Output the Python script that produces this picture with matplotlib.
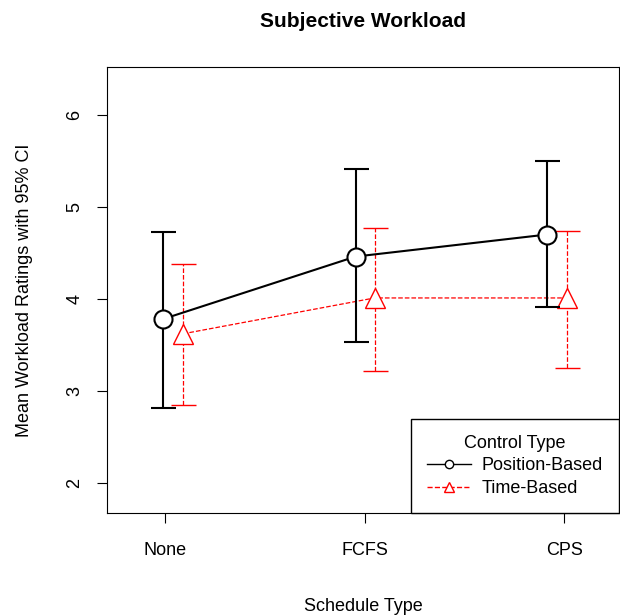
import matplotlib.pyplot as plt
from matplotlib.lines import Line2D

plt.rcParams['font.family'] = ['Liberation Sans', 'DejaVu Sans']

categories = ['None', 'FCFS', 'CPS']
pos_x = [0.99, 1.955, 2.915]
pos_mean = [3.78, 4.46, 4.70]
pos_lo = [2.81, 3.53, 3.91]
pos_hi = [4.73, 5.41, 5.50]
time_x = [1.09, 2.05, 3.015]
time_mean = [3.62, 4.01, 4.01]
time_lo = [2.85, 3.22, 3.25]
time_hi = [4.38, 4.77, 4.74]

fig = plt.figure(figsize=(6.2, 6.16), dpi=100)
ax = fig.add_axes([0.1726, 0.167, 0.826, 0.724])

ax.errorbar(pos_x, pos_mean,
            yerr=[[m - l for m, l in zip(pos_mean, pos_lo)], [h - m for m, h in zip(pos_mean, pos_hi)]],
            color='black', lw=1.5, capsize=9, capthick=1.5, marker='o', ms=13,
            mfc='white', mec='black', mew=1.5, zorder=3)
eb = ax.errorbar(time_x, time_mean,
                 yerr=[[m - l for m, l in zip(time_mean, time_lo)], [h - m for m, h in zip(time_mean, time_hi)]],
                 color='red', lw=0.9, ls='--', capsize=9, capthick=0.9, marker='^', ms=15,
                 mfc='white', mec='red', mew=1.0, zorder=2)
for c in eb[2]:
    c.set_linestyle('--')

ax.set_xlim(0.71, 3.275)
ax.set_ylim(1.67, 6.52)
ax.set_xticks([1, 2, 3])
ax.set_xticklabels(categories, fontsize=13)
ax.set_yticks([2, 3, 4, 5, 6])
ax.set_yticklabels(['2', '3', '4', '5', '6'], fontsize=13, rotation=90, va='center')
ax.tick_params(axis='x', pad=14, length=7)
ax.tick_params(axis='y', pad=10, length=7)
ax.set_xlabel('Schedule Type', fontsize=13, labelpad=28)
ax.set_ylabel('Mean Workload Ratings with 95% CI', fontsize=13, labelpad=24)
ax.set_title('Subjective Workload', fontsize=15, fontweight='bold', pad=29)

handles = [Line2D([], [], color='black', lw=1, marker='o', mfc='white', ms=6),
           Line2D([], [], color='red', lw=1, ls='--', marker='^', mfc='white', ms=7)]
leg = ax.legend(handles, ['Position-Based', 'Time-Based'], title='Control Type',
                loc='lower right', borderaxespad=0, fontsize=13, title_fontsize=13,
                fancybox=False, edgecolor='black', framealpha=1, borderpad=0.9,
                handlelength=2.4, handletextpad=0.6, labelspacing=0.3)
leg.get_frame().set_linewidth(1)

fig.savefig('out.png', dpi=100)
